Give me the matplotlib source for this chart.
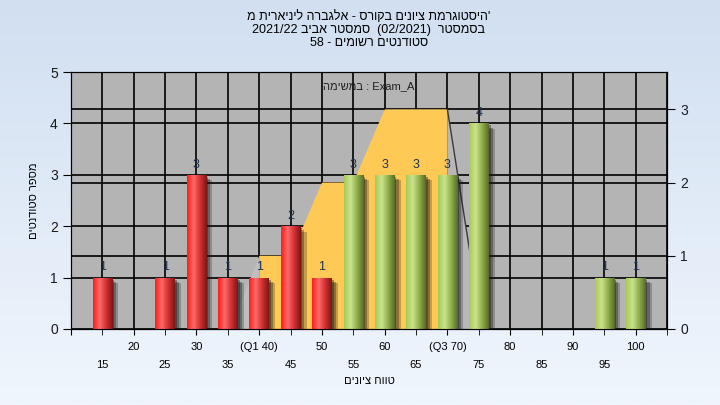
import numpy as np
import matplotlib
matplotlib.use("Agg")
import matplotlib.pyplot as plt
from matplotlib.colors import LinearSegmentedColormap
from matplotlib import patheffects as pe
from matplotlib import transforms

plt.rcParams['font.family'] = ['Liberation Sans', 'DejaVu Sans']

# data
grades = [15, 25, 30, 35, 40, 45, 50, 55, 60, 65, 70, 75, 95, 100]
counts = [1, 1, 3, 1, 1, 2, 1, 3, 3, 3, 3, 4, 1, 1]
pass_grade = 55

# quartile band (right axis)
area_x = [40, 40, 45, 50, 55, 60, 65, 70, 70]
area_y = [0, 1, 1, 2, 2, 3, 3, 3, 0]
left_face_x = [35.5, 40, 40]
left_face_y = [0, 1, 0]
right_face_x = [70, 70, 75.5]
right_face_y = [0, 3, 0]

major_ticks = [10, 20, 30, 40, 50, 60, 70, 80, 90, 100]
major_labels = ['', '20', '30', '(Q1 40)', '50', '60', '(Q3 70)', '80', '90', '100']
minor_ticks = [15, 25, 35, 45, 55, 65, 75, 85, 95, 105]
minor_labels = ['15', '25', '35', '45', '55', '65', '75', '85', '95', '']
left_ticks = [0, 1, 2, 3, 4, 5]
right_ticks = [0, 1, 2, 3]

title1 = "היסטוגרמת ציונים בקורס - אלגברה ליניארית מ"
title2 = "בסמסטר  (02/2021)  סמסטר אביב 2021/22"
title3 = "סטודנטים רשומים - 58"
series_name = "במשימה"
xlabel = "טווח ציונים"
ylabel = "מספר סטודנטים"


def rtl(s):
    # matplotlib has no bidi: put words in visual order by hand
    out = []
    for w in reversed(s.split(' ')):
        if any('\u0590' <= c <= '\u05ff' for c in w):
            w = w[::-1]
        out.append(w)
    return ' '.join(out)


fig = plt.figure(figsize=(7.2, 4.05), dpi=100)

# light blue background gradient
bg = fig.add_axes([0, 0, 1, 1])
grad_bg = np.linspace(0, 1, 256)[:, None]
bg_cmap = LinearSegmentedColormap.from_list('bg', ['#f0f6fd', '#d1dff1'])
bg.imshow(grad_bg, aspect='auto', cmap=bg_cmap, extent=[0, 1, 0, 1], origin='lower')
bg.axis('off')

ax = fig.add_axes([71 / 720, 76 / 405, 596 / 720, 257 / 405])
ax2 = ax.twinx()
ax.set_facecolor('#b4b4b4')
ax.set_xlim(10, 105)
ax.set_ylim(0, 5)
ax2.set_ylim(0, 3.51)

# grid
ax.set_axisbelow(True)
ax.grid(which='both', axis='x', color='black', lw=1.2)
ax.grid(which='major', axis='y', color='black', lw=1.2)
blend = transforms.blended_transform_factory(ax.transAxes, ax2.transData)
for v in right_ticks[1:]:
    ax.plot([0, 1], [v, v], color='black', lw=1.2, transform=blend, zorder=0.6)

# yellow band drawn in right-axis units
ax.fill(left_face_x, left_face_y, color='#bebebe', lw=0, zorder=2, transform=ax2.transData)
ax.fill(right_face_x, right_face_y, color='#b8b8b8', lw=0, zorder=2, transform=ax2.transData)
ax.plot(right_face_x[1:], right_face_y[1:], color='#3a3a3a', lw=1, zorder=2.2, transform=ax2.transData)
ax.fill(area_x, area_y, color='#ffc955', lw=0, zorder=2.1, transform=ax2.transData)

red_cm = LinearSegmentedColormap.from_list('r', ['#ff1c1c', '#ff6a6a', '#d23030', '#7c1616'])
green_cm = LinearSegmentedColormap.from_list('g', ['#a9c955', '#c9e38e', '#8fae48', '#566b2a'])
grad = np.linspace(0, 1, 64)[None, :]

colors = ['#e02a2a' if g < pass_grade else '#9cbc50' for g in grades]
bars = ax.bar(grades, counts, width=3.1, color=colors, edgecolor='none', zorder=3)
shadow = [pe.SimplePatchShadow(offset=(1.5, -1.5), shadow_rgbFace='#1a1a1a', alpha=0.4),
          pe.SimplePatchShadow(offset=(3, -3), shadow_rgbFace='#1a1a1a', alpha=0.35),
          pe.SimplePatchShadow(offset=(4.5, -4), shadow_rgbFace='#1a1a1a', alpha=0.25),
          pe.Normal()]
for b, g, c in zip(bars, grades, counts):
    b.set_path_effects(shadow)
    cm = red_cm if g < pass_grade else green_cm
    im = ax.imshow(grad, cmap=cm, aspect='auto', zorder=3.5,
                   extent=[b.get_x(), b.get_x() + b.get_width(), 0, b.get_height()])
    im.set_clip_path(b)
    ax.annotate(str(c), (g, c), xytext=(0, 3), textcoords='offset points',
                ha='center', va='bottom', fontsize=9, color='#1f3050', zorder=5)

ax.set_xlim(10, 105)
ax.set_ylim(0, 5)

# ticks
ax.set_xticks(major_ticks)
ax.set_xticklabels(major_labels)
ax.set_xticks(minor_ticks, minor=True)
ax.set_xticklabels(minor_labels, minor=True)
ax.tick_params(axis='x', which='major', length=4, pad=5, labelsize=8, colors='black')
ax.tick_params(axis='x', which='minor', length=4, pad=18, labelsize=8, colors='black')
ax.set_yticks(left_ticks)
ax.tick_params(axis='y', length=6, labelsize=10, labelcolor='#1a1a1a')
ax2.set_yticks(right_ticks)
ax2.tick_params(axis='y', length=6, labelsize=10, labelcolor='#1a1a2a')
for sp in ax.spines.values():
    sp.set_color('black')

ax.text(0.5, 0.945, rtl(series_name) + " : Exam_A", transform=ax.transAxes,
        ha='center', va='center', fontsize=8, color='#202020', zorder=6)

ax.set_xlabel(rtl(xlabel), fontsize=8, labelpad=5)
ax.set_ylabel(rtl(ylabel), fontsize=8, labelpad=8)

fig.text(369 / 720, 1 - 17 / 405, rtl(title1) + "'", ha='center', va='center', fontsize=9)
fig.text(369 / 720, 1 - 30 / 405, rtl(title2), ha='center', va='center', fontsize=9)
fig.text(369 / 720, 1 - 43 / 405, rtl(title3), ha='center', va='center', fontsize=9)

fig.savefig('out.png', dpi=100)
